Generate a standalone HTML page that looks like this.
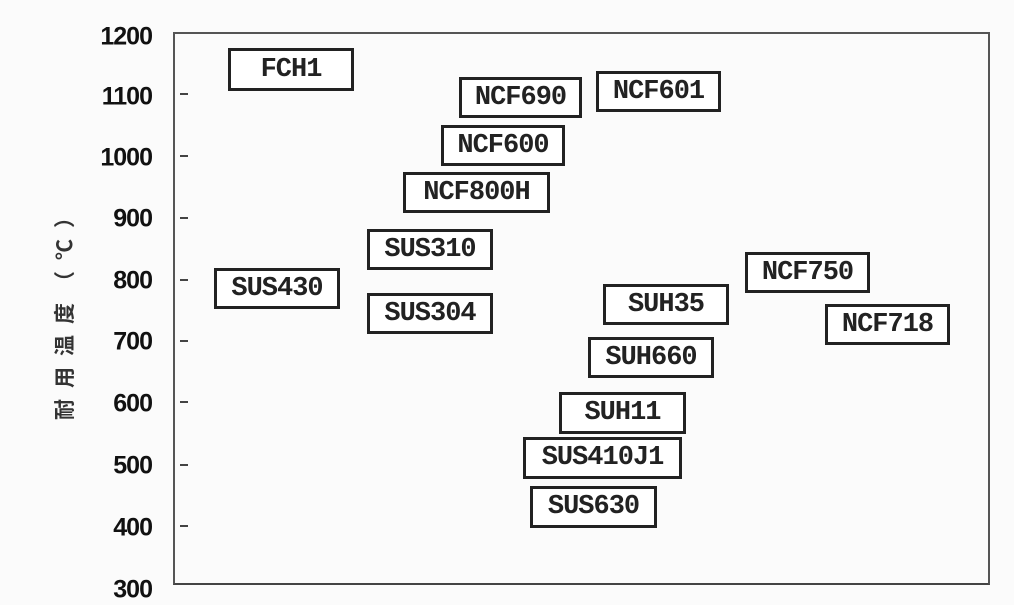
<!DOCTYPE html>
<html><head><meta charset="utf-8"><style>
body{margin:0;width:1014px;height:600px;background:#fbfbfb;position:relative;overflow:hidden;font-family:"Liberation Sans",sans-serif}
.plot{position:absolute;left:173px;top:32px;width:813px;height:549px;border:2px solid #555;border-bottom-color:#444}
.yl{position:absolute;right:862px;font-weight:bold;font-size:25px;color:#111;transform:translateY(-50%);letter-spacing:-1px}
.tk{position:absolute;left:180px;width:8px;height:2px;background:#444}
.b{position:absolute;border:3px solid #222;background:#fff;box-sizing:border-box;font-family:"Liberation Mono",monospace;font-weight:bold;font-size:27px;color:#222;display:flex;align-items:center;justify-content:center;letter-spacing:-1px}
.ax{position:absolute;left:64px;top:308px;transform:translate(-50%,-50%) rotate(-90deg);font-family:"Liberation Sans","Noto Sans CJK SC",sans-serif;font-size:21px;font-weight:bold;color:#333;white-space:nowrap;letter-spacing:11px}
</style></head><body>
<div class="plot"></div>
<div class="yl" style="top:37px">1200</div>
<div class="yl" style="top:97px">1100</div>
<div class="yl" style="top:158px">1000</div>
<div class="yl" style="top:219px">900</div>
<div class="yl" style="top:281px">800</div>
<div class="yl" style="top:342px">700</div>
<div class="yl" style="top:404px">600</div>
<div class="yl" style="top:466px">500</div>
<div class="yl" style="top:528px">400</div>
<div class="yl" style="top:590px">300</div>
<div class="tk" style="top:93px"></div><div class="tk" style="top:155px"></div><div class="tk" style="top:217px"></div><div class="tk" style="top:279px"></div><div class="tk" style="top:340px"></div><div class="tk" style="top:401px"></div><div class="tk" style="top:464px"></div><div class="tk" style="top:525px"></div>
<div class="ax">耐用温度（℃）</div>
<div class="b" style="left:228px;top:48px;width:126px;height:43px">FCH1</div>
<div class="b" style="left:459px;top:77px;width:123px;height:41px">NCF690</div>
<div class="b" style="left:596px;top:71px;width:125px;height:41px">NCF601</div>
<div class="b" style="left:441px;top:125px;width:124px;height:41px">NCF600</div>
<div class="b" style="left:403px;top:172px;width:147px;height:41px">NCF800H</div>
<div class="b" style="left:367px;top:229px;width:126px;height:41px">SUS310</div>
<div class="b" style="left:214px;top:268px;width:126px;height:41px">SUS430</div>
<div class="b" style="left:367px;top:293px;width:126px;height:41px">SUS304</div>
<div class="b" style="left:745px;top:252px;width:125px;height:41px">NCF750</div>
<div class="b" style="left:603px;top:284px;width:126px;height:41px">SUH35</div>
<div class="b" style="left:825px;top:304px;width:125px;height:41px">NCF718</div>
<div class="b" style="left:588px;top:337px;width:126px;height:41px">SUH660</div>
<div class="b" style="left:559px;top:392px;width:127px;height:42px">SUH11</div>
<div class="b" style="left:523px;top:437px;width:159px;height:42px">SUS410J1</div>
<div class="b" style="left:530px;top:486px;width:127px;height:42px">SUS630</div>
</body></html>
